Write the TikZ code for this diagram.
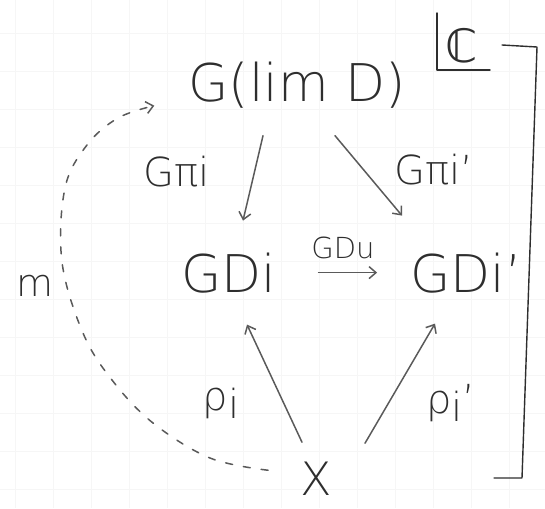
\documentclass[tikz,border=0pt]{standalone}
\usepackage{fontspec}
\setmainfont{DejaVu Sans ExtraLight}
\newfontfamily\symfont{DejaVu Sans}
\usetikzlibrary{arrows.meta,calc}
\definecolor{ink}{HTML}{2E2E2E}
\definecolor{pencil}{HTML}{5A5A5A}
\definecolor{paper}{HTML}{F6F6F6}
\tikzset{
  lbl/.style={text=ink, inner sep=0pt, font=\fontsize{#1}{#1}\selectfont},
  arr/.style={draw=pencil, line width=1.5pt, line cap=round,
    -{Straight Barb[length=7pt,width=12pt,line width=1.5pt]}},
  dasharr/.style={arr, dash pattern=on 7pt off 11pt},
  frame/.style={draw=ink, line width=1.4pt, line cap=round, line join=round},
}
\begin{document}
\begin{tikzpicture}[x=1pt,y=-1pt]
\useasboundingbox (0,0) rectangle (545,508);
% faint squared paper
\foreach \gx in {15,53,...,545} \draw[paper, line width=0.8pt] (\gx,0) -- (\gx,508);
\foreach \gy in {33,71,...,508} \draw[paper, line width=0.8pt] (0,\gy) -- (545,\gy);

% objects
\node[lbl=52, anchor=base] (top) at (297,102) {G(lim D)};
\node[lbl=52, anchor=base] (gdi) at (229,292) {GDi};
\node[lbl=52, anchor=base] (gdj) at (466,292) {GDi'};
\node[lbl=46, anchor=base] (x) at (316,495) {X};

% morphism labels
\node[lbl=40, anchor=base] (lpi) at (177,186) {Gπi};
\node[lbl=40, anchor=base] (lpj) at (434,184) {Gπi'};
\node[lbl=29, anchor=base] (lgdu) at (343,258) {GDu};
\node[lbl=40] (lrho) at (221,403) {ρ\raisebox{-0.2em}{i}};
\node[lbl=40] (lrhoj) at (451,403) {ρ\raisebox{-0.2em}{i}'};
\node[lbl=38] (lm) at (35,286) {m};

% category tag
\node[lbl=46] (cat) at (462,46) {\symfont ℂ};
\draw[frame] (437,13) -- (437,70) -- (490,70);
\draw[frame] (502,45) -- (537,47) -- (522,478) -- (494,478);

% cone arrows
\draw[arr] ($(top)+(-34,50)$) -- ($(gdi)+(14,-52)$);
\draw[arr] ($(top)+(38,50)$) -- ($(gdj)+(-64,-57)$);
\draw[arr] ($(gdi.east)+(42,0)$) -- ($(gdj.west)+(-33,0)$);
\draw[arr] ($(x)+(-14,-36)$) -- ($(gdi)+(18,52)$);
\draw[arr] ($(x)+(49,-35)$) -- ($(gdj)+(-31,51)$);

% mediating morphism
\draw[dasharr] plot[smooth, tension=0.6] coordinates {
  ($(x.west)+(-32,-8)$) (210,458) (153,423) (112,380) (83,333)
  (62,262) (65,188) (87,145) (118,118) ($(top.west)+(-34,20)$)};
\end{tikzpicture}
\end{document}
